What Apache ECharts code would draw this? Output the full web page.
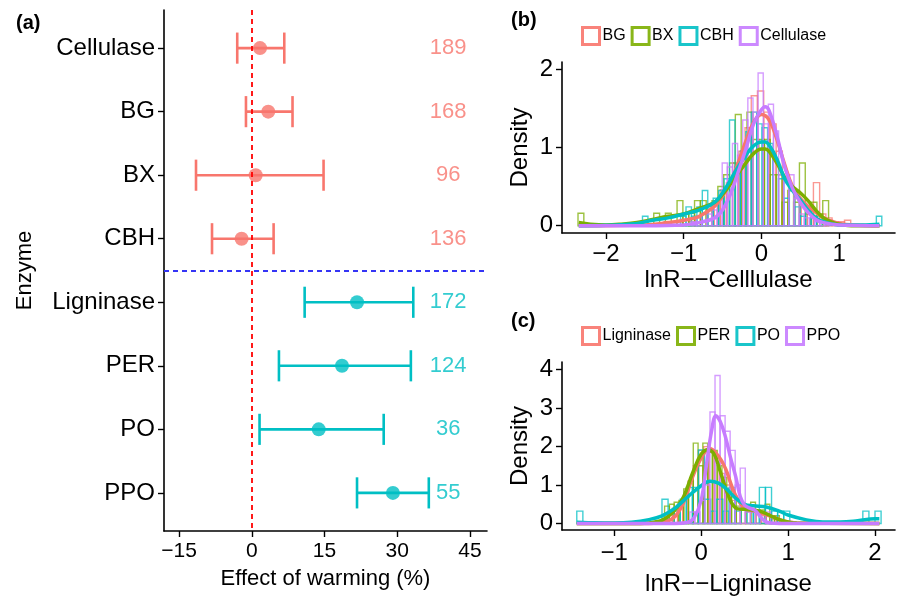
<!DOCTYPE html>
<html lang="en">
<head>
    <meta charset="UTF-8">
    <title>Warming effect on enzymes</title>
    <style>
        body { margin: 0; padding: 0; background: #fff; }
        #main { width: 899px; height: 602px; }
    </style>
    <script src="https://cdn.jsdelivr.net/npm/echarts@6/dist/echarts.min.js"></script>
</head>
<body>
<div id="main"></div>
<script>
	// ---- panel (a): effect of warming ----
	var enzymes = ['Cellulase', 'BG', 'BX', 'CBH', 'Ligninase', 'PER', 'PO', 'PPO'];
	var enzGroup = [0, 0, 0, 0, 1, 1, 1, 1];
	var effMean = [1.7, 3.4, 0.8, -2.1, 21.7, 18.6, 13.8, 29.1];
	var effLow = [-3.0, -1.2, -11.5, -8.2, 10.9, 5.6, 1.6, 21.7];
	var effHigh = [6.7, 8.4, 14.8, 4.5, 33.3, 32.8, 27.2, 36.5];
	var nObs = [189, 168, 96, 136, 172, 124, 36, 55];
	var xTicksA = [-15, 0, 15, 30, 45];

	// ---- panel (b): cellulose enzymes, histogram bins [start, width] + heights ----
	var namesB = ['BG', 'BX', 'CBH', 'Cellulase'];
	var binBG = [-1.25, 0.08];
	var histBG = [0.05, 0, 0.05, 0, 0.05, 0.1, 0.15, 0.2, 0.3, 0.46, 0.55, 0.8, 0.95, 1.25, 1.66,
		1.72, 1.45, 1.3, 0.95, 0.6, 0.45, 0.35, 0.25, 0.2, 0.55, 0.15, 0.1, 0.05, 0.05, 0.07];
	var binBX = [-2.36, 0.075];
	var histBX = [0.16, 0, 0, 0, 0, 0, 0, 0, 0, 0, 0, 0, 0, 0.16, 0, 0.16, 0, 0.32, 0.16, 0.16,
		0.32, 0.32, 0.25, 0.32, 0.5, 0.65, 0.8, 1.42, 0.95, 1.45, 1.1, 1.1, 1.1, 0.65, 0.65, 0.3,
		0.45, 0.3, 0.8, 0.15, 0.3, 0.15, 0.32];
	var binCBH = [-1.53, 0.07];
	var histCBH = [0.12, 0, 0, 0, 0, 0, 0, 0.12, 0.24, 0.12, 0.24, 0.45, 0.24, 0.35, 0.45, 0.6,
		1.35, 0.75, 0.95, 1.2, 1.45, 1.3, 1.25, 1.05, 0.85, 0.6, 0.35, 0.45, 0.24, 0.12, 0.24,
		0.12, 0.12, 0, 0, 0, 0, 0, 0, 0, 0, 0, 0, 0.12];
	var binCel = [-0.9, 0.066];
	var histCel = [0.05, 0.1, 0.05, 0.15, 0.2, 0.35, 0.8, 0.75, 1.05, 0.9, 1.35, 1.63, 1.45, 1.95,
		1.3, 1.55, 1.21, 0.65, 0.55, 0.65, 0.35, 0.15, 0.1, 0.1, 0.05, 0.05, 0.05];

	var densBG = [[-2.35, 0], [-1.5, 0.01], [-1.2, 0.04], [-1.0, 0.07], [-0.8, 0.12], [-0.6, 0.25],
		[-0.5, 0.38], [-0.4, 0.55], [-0.3, 0.8], [-0.2, 1.08], [-0.1, 1.32], [0, 1.42], [0.1, 1.35],
		[0.2, 1.1], [0.3, 0.78], [0.4, 0.5], [0.5, 0.35], [0.6, 0.25], [0.7, 0.17], [0.8, 0.1],
		[0.9, 0.06], [1.0, 0.03], [1.2, 0.01], [1.52, 0]];
	var densBX = [[-2.35, 0.04], [-2.2, 0.02], [-2.0, 0.01], [-1.8, 0.02], [-1.6, 0.04], [-1.4, 0.08],
		[-1.2, 0.12], [-1.0, 0.15], [-0.8, 0.22], [-0.6, 0.3], [-0.5, 0.4], [-0.4, 0.53], [-0.3, 0.67],
		[-0.2, 0.8], [-0.1, 0.92], [0, 0.98], [0.05, 0.98], [0.1, 0.95], [0.2, 0.8], [0.3, 0.62],
		[0.4, 0.5], [0.5, 0.42], [0.6, 0.32], [0.7, 0.2], [0.8, 0.1], [0.9, 0.05], [1.0, 0.02],
		[1.2, 0], [1.52, 0]];
	var densCBH = [[-2.35, 0], [-2.0, 0.005], [-1.6, 0.03], [-1.4, 0.07], [-1.2, 0.1], [-1.0, 0.15],
		[-0.8, 0.2], [-0.6, 0.3], [-0.5, 0.42], [-0.4, 0.58], [-0.3, 0.75], [-0.2, 0.9], [-0.1, 1.02],
		[0, 1.07], [0.05, 1.07], [0.1, 1.03], [0.2, 0.85], [0.3, 0.6], [0.4, 0.45], [0.5, 0.33],
		[0.6, 0.2], [0.7, 0.1], [0.8, 0.05], [1.0, 0.01], [1.3, 0.01], [1.52, 0.02]];
	var densCel = [[-2.35, 0], [-1.5, 0], [-1.0, 0.01], [-0.8, 0.04], [-0.6, 0.1], [-0.5, 0.2],
		[-0.4, 0.4], [-0.3, 0.68], [-0.2, 0.98], [-0.1, 1.3], [0, 1.48], [0.05, 1.52], [0.1, 1.47],
		[0.2, 1.15], [0.3, 0.75], [0.4, 0.48], [0.5, 0.3], [0.6, 0.17], [0.7, 0.08], [0.8, 0.04],
		[1.0, 0.01], [1.52, 0]];

	// ---- panel (c): ligninase enzymes ----
	var namesC = ['Ligninase', 'PER', 'PO', 'PPO'];
	var binLig = [-0.45, 0.06];
	var histLig = [0.1, 0.3, 0.4, 0.5, 0.7, 1.1, 1.5, 1.9, 2.0, 1.9, 1.7, 1.3, 1.0, 0.6, 0.4, 0.35,
		0.3, 0.3, 0.25, 0.2, 0.2, 0.1, 0.1, 0.05, 0.05];
	var binPER = [-0.42, 0.055];
	var histPER = [0.45, 0.5, 0.55, 0.6, 0.9, 1.1, 2.09, 1.5, 2.09, 1.85, 1.9, 1.5, 1.2, 0.9, 0.75,
		0.45, 0.35, 0.35, 0.55, 0.35, 0.35, 0.5, 0.2, 0.2];
	var binPO = [-1.43, 0.07];
	var histPO = [0.32, 0, 0, 0, 0, 0, 0, 0, 0, 0, 0, 0, 0, 0, 0.63, 0, 0.32, 0.63, 0.94, 0.94,
		1.91, 0.63, 0.32, 0.63, 0.32, 0.94, 0.32, 0, 0.32, 0.32, 0.94, 0.94, 0.32, 0.32, 0.32,
		0, 0, 0, 0, 0, 0, 0, 0, 0, 0, 0, 0, 0.32, 0, 0.32];
	var binPPO = [-0.13, 0.058];
	var histPPO = [0.3, 0.3, 0.6, 1.0, 2.9, 3.85, 2.8, 2.4, 1.9, 1.0, 1.44, 0.3, 0.3, 0.3, 0, 0.3];

	var densLig = [[-1.43, 0], [-0.6, 0], [-0.4, 0.05], [-0.3, 0.18], [-0.2, 0.55], [-0.1, 1.2],
		[0, 1.7], [0.1, 1.95], [0.2, 1.75], [0.28, 1.43], [0.34, 1.05], [0.4, 0.72], [0.5, 0.4],
		[0.62, 0.32], [0.72, 0.25], [0.85, 0.15], [0.97, 0.05], [1.1, 0.01], [2.05, 0]];
	var densPER = [[-1.43, 0], [-0.7, 0], [-0.5, 0.05], [-0.4, 0.15], [-0.3, 0.35], [-0.2, 0.7],
		[-0.1, 1.3], [0, 1.8], [0.08, 1.92], [0.15, 1.8], [0.22, 1.35], [0.3, 0.8], [0.36, 0.5],
		[0.42, 0.38], [0.5, 0.37], [0.6, 0.35], [0.7, 0.3], [0.8, 0.2], [0.9, 0.1], [1.0, 0.04],
		[1.1, 0.01], [2.05, 0]];
	var densPO = [[-1.43, 0.03], [-1.3, 0.02], [-1.0, 0.01], [-0.8, 0.03], [-0.6, 0.1], [-0.45, 0.2],
		[-0.3, 0.4], [-0.15, 0.7], [0, 0.98], [0.1, 1.1], [0.2, 1.05], [0.3, 0.88], [0.4, 0.65],
		[0.5, 0.5], [0.6, 0.46], [0.75, 0.43], [0.9, 0.32], [1.0, 0.22], [1.2, 0.1], [1.4, 0.04],
		[1.6, 0.04], [1.8, 0.07], [2.0, 0.12], [2.05, 0.12]];
	var densPPO = [[-1.43, 0], [-0.3, 0], [-0.15, 0.03], [-0.08, 0.15], [0, 0.6], [0.06, 1.5],
		[0.12, 2.4], [0.17, 2.8], [0.22, 2.65], [0.28, 2.25], [0.34, 1.7], [0.4, 1.2], [0.45, 0.7],
		[0.5, 0.48], [0.56, 0.4], [0.62, 0.34], [0.68, 0.18], [0.74, 0.05], [0.8, 0.01], [0.9, 0],
		[2.05, 0]];

	var colors4 = ['#F8766D', '#7CAE00', '#00BFC4', '#C77CFF'];
	var groupColors = ['#F8766D', '#00BFC4'];
	var FONT = 'Liberation Sans, Arial, sans-serif';

	var chart = echarts.init(document.getElementById('main'));

	var minus = function (v) {
		return String(v).replace('-', '\u2212');
	};

	var binsToData = function (bin, heights) {
		var res = [];
		for (var i = 0; i < heights.length; i++) {
			if (heights[i] > 0) {
				res.push([bin[0] + i * bin[1], bin[0] + (i + 1) * bin[1], heights[i]]);
			}
		}
		return res;
	};

	var histSeries = function (name, bin, heights, color, idx) {
		return {
			name: name,
			type: 'custom',
			xAxisIndex: idx,
			yAxisIndex: idx,
			encode: {x: [0, 1], y: 2},
			data: binsToData(bin, heights),
			renderItem: function (params, api) {
				var p0 = api.coord([api.value(0), api.value(2)]);
				var p1 = api.coord([api.value(1), 0]);
				return {
					type: 'rect',
					shape: {x: p0[0], y: p0[1], width: p1[0] - p0[0], height: p1[1] - p0[1]},
					style: {fill: 'none', stroke: color, lineWidth: 1.4, opacity: 0.75}
				};
			},
			z: 2
		};
	};

	var densSeries = function (name, data, color, idx) {
		return {
			name: name,
			type: 'line',
			xAxisIndex: idx,
			yAxisIndex: idx,
			data: data,
			smooth: 0.4,
			showSymbol: false,
			lineStyle: {color: color, width: 3.5},
			itemStyle: {color: color},
			z: 3
		};
	};

	var axisBase = function (idx, min, max, ticks, fontSize, margin) {
		return {
			type: 'value',
			gridIndex: idx,
			min: min,
			max: max,
			splitLine: {show: false},
			axisLine: {show: true, onZero: false, lineStyle: {color: '#000', width: 1.6}},
			axisTick: {show: true, length: 6, customValues: ticks, lineStyle: {color: '#000', width: 1.4}},
			axisLabel: {customValues: ticks, color: '#000', fontSize: fontSize, fontFamily: FONT,
				margin: margin, formatter: minus},
			nameLocation: 'middle',
			nameTextStyle: {color: '#000', fontSize: 24, fontFamily: FONT}
		};
	};

	// panel a axes
	var xA = axisBase(0, -18.1, 48.5, xTicksA, 21, 10);
	xA.name = 'Effect of warming (%)';
	xA.nameGap = 37;
	xA.nameTextStyle.fontSize = 22;
	var yA = axisBase(0, -0.6, 7.6, [0, 1, 2, 3, 4, 5, 6, 7], 24, 9);
	yA.inverse = true;
	yA.axisLabel.formatter = function (v) { return enzymes[v]; };
	yA.name = 'Enzyme';
	yA.nameGap = 128;
	yA.nameTextStyle.fontSize = 22;

	// panel b axes
	var xB = axisBase(1, -2.566, 1.72, [-2, -1, 0, 1], 24, 9);
	xB.name = 'lnR\u2212\u2212Celllulase';
	xB.nameGap = 35;
	var yB = axisBase(1, -0.093, 2.09, [0, 1, 2], 24, 9);
	yB.name = 'Density';
	yB.nameGap = 30;

	// panel c axes
	var xC = axisBase(2, -1.6, 2.23, [-1, 0, 1, 2], 24, 11);
	xC.name = 'lnR\u2212\u2212Ligninase';
	xC.nameGap = 42;
	var yC = axisBase(2, -0.17, 4.2, [0, 1, 2, 3, 4], 24, 9);
	yC.name = 'Density';
	yC.nameGap = 30;

	var ciData = enzymes.map(function (e, i) { return [i, effLow[i], effHigh[i]]; });
	var ptData = enzymes.map(function (e, i) {
		return {value: [effMean[i], i], itemStyle: {color: groupColors[enzGroup[i]]}};
	});
	var labelX = 40.5;
	var nData = enzymes.map(function (e, i) {
		return {value: [labelX, i, nObs[i]], label: {color: groupColors[enzGroup[i]]}};
	});

	var series = [
		{
			name: 'ci',
			type: 'custom',
			xAxisIndex: 0,
			yAxisIndex: 0,
			encode: {x: [1, 2], y: 0},
			data: ciData,
			renderItem: function (params, api) {
				var i = api.value(0);
				var a = api.coord([api.value(1), i]);
				var b = api.coord([api.value(2), i]);
				var cap = api.size([0, 0.49])[1] / 2;
				var st = {stroke: groupColors[enzGroup[i]], lineWidth: 2.6};
				return {
					type: 'group',
					children: [
						{type: 'line', shape: {x1: a[0], y1: a[1], x2: b[0], y2: b[1]}, style: st},
						{type: 'line', shape: {x1: a[0], y1: a[1] - cap, x2: a[0], y2: a[1] + cap}, style: st},
						{type: 'line', shape: {x1: b[0], y1: b[1] - cap, x2: b[0], y2: b[1] + cap}, style: st}
					]
				};
			},
			z: 3
		},
		{
			name: 'mean',
			type: 'scatter',
			xAxisIndex: 0,
			yAxisIndex: 0,
			symbolSize: 14,
			data: ptData,
			z: 4,
			markLine: {
				silent: true,
				symbol: 'none',
				label: {show: false},
				animation: false,
				data: [
					{xAxis: 0, lineStyle: {color: '#ff0000', type: [5, 4], width: 1.8}},
					{yAxis: 3.5, lineStyle: {color: '#3535f5', type: [5, 4], width: 1.8}}
				]
			}
		},
		{
			name: 'n',
			type: 'scatter',
			xAxisIndex: 0,
			yAxisIndex: 0,
			symbolSize: 0,
			data: nData,
			label: {
				show: true,
				position: 'inside',
				fontSize: 22,
				fontFamily: FONT,
				formatter: function (p) { return p.value[2]; }
			}
		}
	];

	var histsB = [[binBG, histBG], [binBX, histBX], [binCBH, histCBH], [binCel, histCel]];
	var densB = [densBG, densBX, densCBH, densCel];
	var histsC = [[binLig, histLig], [binPER, histPER], [binPO, histPO], [binPPO, histPPO]];
	var densC = [densLig, densPER, densPO, densPPO];

	for (var k = 0; k < 4; k++) {
		series.push(histSeries(namesB[k], histsB[k][0], histsB[k][1], colors4[k], 1));
		series.push(histSeries(namesC[k], histsC[k][0], histsC[k][1], colors4[k], 2));
	}
	for (var k = 0; k < 4; k++) {
		series.push(densSeries(namesB[k], densB[k], colors4[k], 1));
		series.push(densSeries(namesC[k], densC[k], colors4[k], 2));
	}

	var legendFor = function (names, top) {
		return {
			left: 576,
			top: top,
			icon: 'rect',
			itemWidth: 17,
			itemHeight: 17,
			itemGap: 5,
			selectedMode: false,
			textStyle: {fontSize: 16, fontFamily: FONT, color: '#000', padding: [0, 0, 0, -2]},
			data: names.map(function (n, i) {
				return {name: n, itemStyle: {color: '#fff', borderColor: colors4[i], borderWidth: 3, opacity: 0.9}};
			})
		};
	};

	var option = {
		animation: false,
		textStyle: {fontFamily: FONT},
		grid: [
			{left: 164, top: 10, width: 323, height: 521},
			{left: 562, top: 62, width: 333, height: 171},
			{left: 562, top: 362, width: 333, height: 168}
		],
		xAxis: [xA, xB, xC],
		yAxis: [yA, yB, yC],
		legend: [legendFor(namesB, 21), legendFor(namesC, 321)],
		graphic: [
			{type: 'text', left: 16, top: 13, style: {text: '(a)', font: 'bold 20px ' + FONT, fill: '#000'}},
			{type: 'text', left: 511, top: 10, style: {text: '(b)', font: 'bold 20px ' + FONT, fill: '#000'}},
			{type: 'text', left: 511, top: 311, style: {text: '(c)', font: 'bold 20px ' + FONT, fill: '#000'}}
		],
		series: series
	};
	chart.setOption(option);
	window.onresize = chart.resize;
</script>
</body>
</html>
